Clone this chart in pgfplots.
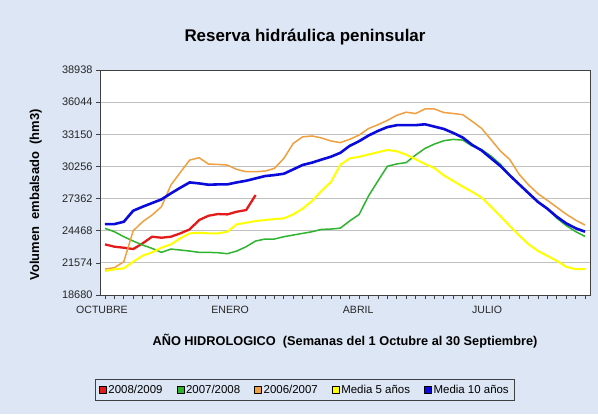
\documentclass[border=0pt]{standalone}
\usepackage{fontspec}
\setmainfont{Liberation Sans}
\usepackage{pgfplots}
\usepackage{pgfplotstable}
\pgfplotsset{compat=1.18}
\definecolor{bg}{HTML}{DCE6F4}
\definecolor{cred}{HTML}{E41B1B}
\definecolor{cgreen}{HTML}{2EB42E}
\definecolor{corange}{HTML}{F0A040}
\definecolor{cyellow}{HTML}{FFFF00}
\definecolor{cblue}{HTML}{0A0ADC}
\definecolor{axgray}{HTML}{404040}
\definecolor{gridgray}{HTML}{C0C0C0}

\pgfplotstableread{
w green orange yellow blue
1 24678 21018 20838 25068
2 24378 21138 20988 25068
3 23928 21678 21078 25278
4 23538 24468 21678 26268
5 23178 25278 22218 26628
6 22878 25878 22518 26958
7 22518 26628 22938 27288
8 22818 28578 23238 27828
9 22728 29718 23778 28338
10 22638 30828 24228 28818
11 22518 31038 24288 28728
12 22518 30468 24228 28608
13 22488 30438 24228 28638
14 22398 30378 24378 28640
15 22638 29988 25038 28818
16 23028 29778 25188 28968
17 23538 29778 25338 29178
18 23718 29838 25428 29388
19 23718 30078 25518 29478
20 23928 30978 25578 29598
21 24078 32328 25938 29990
22 24228 32920 26450 30390
23 24378 33000 27150 30600
24 24588 32820 28050 30870
25 24618 32550 28850 31130
26 24700 32400 30400 31480
27 25350 32700 30980 32110
28 25930 33080 31120 32530
29 27600 33670 31330 33040
30 28950 34010 31530 33450
31 30270 34400 31740 33800
32 30480 34860 31620 33970
33 30600 35140 31320 33970
34 31280 35020 30900 33970
35 31880 35430 30480 34050
36 32270 35430 30100 33840
37 32570 35110 29450 33630
38 32690 35020 28950 33270
39 32630 34920 28440 32860
40 32100 34320 27980 32200
41 31780 33690 27460 31700
42 31200 32680 26650 31000
43 30450 31650 25780 30300
44 29500 30880 24900 29450
45 28650 29550 24050 28650
46 27850 28600 23250 27850
47 27050 27800 22650 27060
48 26430 27200 22200 26450
49 25600 26580 21760 25730
50 24930 25960 21220 25130
51 24390 25420 21010 24690
52 23950 24980 21000 24380
}\maintable

\pgfplotstableread{
w red
1 23238
2 23028
3 22938
4 22818
5 23328
6 23928
7 23838
8 23928
9 24228
10 24588
11 25428
12 25818
13 25968
14 25938
15 26178
16 26328
17 27678
}\redtable

\begin{document}
\begin{tikzpicture}[x=1bp,y=1bp]
\path[use as bounding box, fill=bg] (0,0) rectangle (598,414);
\node[font=\bfseries\fontsize{17}{20}\selectfont] at (305,377) {Reserva hidráulica peninsular};
\node[font=\bfseries\fontsize{12.8}{15}\selectfont] at (345,73) {AÑO HIDROLOGICO\ \ (Semanas del 1 Octubre al 30 Septiembre)};
\begin{axis}[
  at={(100bp,119bp)}, anchor=south west,
  scale only axis, width=490bp, height=225bp,
  xmin=0.47, xmax=52.53, ymin=18680, ymax=38938,
  axis background/.style={fill=white},
  axis line style={axgray, line width=0.9pt},
  ytick={18680,21574,24468,27362,30256,33150,36044,38938},
  ymajorgrids, major grid style={gridgray, line width=0.8pt},
  yticklabel style={font=\fontsize{11}{13}\selectfont, text=black!85},
  y tick label style={/pgf/number format/.cd, 1000 sep={}, fixed},
  scaled y ticks=false,
  /pgf/number format/assume math mode=true,
  xtick={0.68,14.3,27.9,41.6},
  xticklabels={OCTUBRE,ENERO,ABRIL,JULIO},
  major x tick style={draw=none},
  minor xtick={1,2,...,52},
  minor tick length=4bp,
  major tick length=4bp,
  tick style={axgray, line width=0.7pt},
  tick align=outside,
  xtick pos=bottom, ytick pos=left,
  xticklabel style={font=\fontsize{10.6}{12}\selectfont, text=black!85, yshift=-4bp},
  ylabel={Volumen\ \ embalsado\ \ (hm3)},
  ylabel style={font=\bfseries\fontsize{13}{15}\selectfont, at={(axis description cs:-0.131,0.445)}, anchor=center},
  legend columns=5,
  legend style={at={(axis description cs:0.418,-0.422)}, anchor=center, fill=bg, draw=axgray, line width=0.8pt,
     font=\fontsize{11.5}{13}\selectfont, inner xsep=4bp, inner ysep=4bp,
     /tikz/every even column/.append style={column sep=12bp}},
  legend image code/.code={\draw[#1, fill, draw=black, line width=0.5pt] (0bp,-3.5bp) rectangle (7bp,3.5bp);},
  every axis plot/.append style={line join=round},
]
\addplot[cred, line width=2.3bp, mark=none] table[x=w, y=red] {\redtable};
\addlegendentry{2008/2009}
\addplot[cgreen, line width=1.5bp, mark=none] table[x=w, y=green] {\maintable};
\addlegendentry{2007/2008}
\addplot[corange, line width=1.5bp, mark=none] table[x=w, y=orange] {\maintable};
\addlegendentry{2006/2007}
\addplot[cyellow, line width=2bp, mark=none] table[x=w, y=yellow] {\maintable};
\addlegendentry{Media 5 años}
\addplot[cblue, line width=2.6bp, mark=none] table[x=w, y=blue] {\maintable};
\addlegendentry{Media 10 años}
\end{axis}
\end{tikzpicture}
\end{document}
